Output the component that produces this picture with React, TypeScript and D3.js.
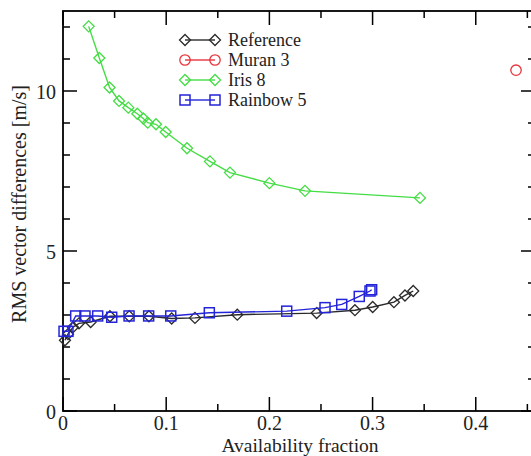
import React from "react";
import * as d3 from "d3";

const refX = [0.0019, 0.0048, 0.0097, 0.0155, 0.0268, 0.0455, 0.0642, 0.0833, 0.1053, 0.1279, 0.1689, 0.2458, 0.2829, 0.3001, 0.3207, 0.3314, 0.3394];
const refY = [2.21, 2.4, 2.62, 2.74, 2.78, 2.96, 2.96, 2.96, 2.89, 2.91, 3.01, 3.06, 3.15, 3.25, 3.4, 3.61, 3.75];

const muranX = [0.439];
const muranY = [10.65];

const irisX = [0.0249, 0.0352, 0.0451, 0.0543, 0.0633, 0.072, 0.0778, 0.0821, 0.0901, 0.0995, 0.1202, 0.1424, 0.1618, 0.2, 0.2345, 0.3459];
const irisY = [12.02, 11.03, 10.11, 9.69, 9.48, 9.29, 9.14, 9.01, 8.96, 8.72, 8.21, 7.8, 7.45, 7.12, 6.88, 6.66];

const rainX = [0.001, 0.0048, 0.0123, 0.0213, 0.0336, 0.0472, 0.064, 0.083, 0.1044, 0.1418, 0.2168, 0.2539, 0.2701, 0.2871, 0.2975, 0.2991];
const rainY = [2.49, 2.49, 2.97, 2.97, 2.97, 2.93, 2.97, 2.97, 2.97, 3.07, 3.12, 3.23, 3.33, 3.58, 3.75, 3.79];

const seriesNames = ["Reference", "Muran 3", "Iris 8", "Rainbow 5"];
const xMajorTicks = [0, 0.1, 0.2, 0.3, 0.4];
const xTickLabels = ["0", "0.1", "0.2", "0.3", "0.4"];
const yMajorTicks = [0, 5, 10];
const yTickLabels = ["0", "5", "10"];

const L = 63, R = 535, T = 11, B = 411;
const FONT = "'Liberation Serif', 'Times New Roman', serif";

type Shape = "diamond" | "circle" | "square";

function Marker({ shape, cx, cy, color }: { shape: Shape; cx: number; cy: number; color: string }) {
  const sw = 1.3;
  if (shape === "diamond") {
    const r = 5.5;
    return <path d={`M${cx},${cy - r}L${cx + r},${cy}L${cx},${cy + r}L${cx - r},${cy}Z`} fill="none" stroke={color} strokeWidth={sw} />;
  }
  if (shape === "circle") {
    return <circle cx={cx} cy={cy} r={5.2} fill="none" stroke={color} strokeWidth={sw} />;
  }
  const h = 5;
  return <rect x={cx - h} y={cy - h} width={2 * h} height={2 * h} fill="none" stroke={color} strokeWidth={sw + 0.2} />;
}

export default function App() {
  const x = d3.scaleLinear().domain([0, 0.4574]).range([L, R]);
  const y = d3.scaleLinear().domain([0, 12.5]).range([B, T]);

  const series = [
    { name: seriesNames[0], xs: refX, ys: refY, color: "#2a2a2a", shape: "diamond" as Shape },
    { name: seriesNames[1], xs: muranX, ys: muranY, color: "#e8333b", shape: "circle" as Shape },
    { name: seriesNames[2], xs: irisX, ys: irisY, color: "#44dd44", shape: "diamond" as Shape },
    { name: seriesNames[3], xs: rainX, ys: rainY, color: "#2424d8", shape: "square" as Shape },
  ];

  const line = d3.line<[number, number]>().x((d) => x(d[0])).y((d) => y(d[1]));

  const xMinor = d3.range(0, 0.4574, 0.05).filter((v) => !xMajorTicks.some((m) => Math.abs(m - v) < 1e-6));
  const yMinor = d3.range(0, 12.6, 1).filter((v) => !yMajorTicks.some((m) => Math.abs(m - v) < 1e-6));

  const MAJ = 14, MIN = 7;

  return (
    <svg width={531} height={456} style={{ position: "absolute", left: 0, top: 0, background: "#fff" }} fontFamily={FONT}>
      <rect x={0} y={0} width={531} height={456} fill="#fff" />
      <g stroke="#000" strokeWidth={1.5}>
        {xMajorTicks.map((v) => (
          <g key={"xm" + v}>
            <line x1={x(v)} x2={x(v)} y1={B} y2={B - MAJ} />
            <line x1={x(v)} x2={x(v)} y1={T} y2={T + MAJ} />
          </g>
        ))}
        {xMinor.map((v) => (
          <g key={"xn" + v}>
            <line x1={x(v)} x2={x(v)} y1={B} y2={B - MIN} />
            <line x1={x(v)} x2={x(v)} y1={T} y2={T + MIN} />
          </g>
        ))}
        {yMajorTicks.map((v) => (
          <g key={"ym" + v}>
            <line x1={L} x2={L + MAJ} y1={y(v)} y2={y(v)} />
            <line x1={R} x2={R - MAJ} y1={y(v)} y2={y(v)} />
          </g>
        ))}
        {yMinor.map((v) => (
          <g key={"yn" + v}>
            <line x1={L} x2={L + MIN} y1={y(v)} y2={y(v)} />
            <line x1={R} x2={R - MIN} y1={y(v)} y2={y(v)} />
          </g>
        ))}
      </g>
      <rect x={L} y={T} width={R - L} height={B - T} fill="none" stroke="#000" strokeWidth={1.8} />

      <g fontSize={20} fill="#222">
        {xMajorTicks.map((v, i) => (
          <text key={"xl" + v} x={x(v)} y={430} textAnchor="middle">{xTickLabels[i]}</text>
        ))}
        {yMajorTicks.map((v, i) => (
          <text key={"yl" + v} x={56} y={y(v) + 7.5} textAnchor="end">{yTickLabels[i]}</text>
        ))}
      </g>
      <text x={300} y={452} textAnchor="middle" fontSize={19.5} fill="#222">Availability fraction</text>
      <text transform="translate(26,204) rotate(-90)" textAnchor="middle" fontSize={20} fill="#222">RMS vector differences [m/s]</text>

      {series.map((s) => {
        const pts: [number, number][] = s.xs.map((v, i) => [v, s.ys[i]]);
        return (
          <g key={s.name}>
            {pts.length > 1 && <path d={line(pts) || ""} fill="none" stroke={s.color} strokeWidth={1.4} />}
            {pts.map((p, i) => (
              <Marker key={i} shape={s.shape} cx={x(p[0])} cy={y(p[1])} color={s.color} />
            ))}
          </g>
        );
      })}

      {series.map((s, i) => {
        const ly = 40 + i * 20;
        return (
          <g key={"lg" + s.name}>
            <line x1={185} x2={215} y1={ly} y2={ly} stroke={s.color} strokeWidth={1.4} />
            <Marker shape={s.shape} cx={185} cy={ly} color={s.color} />
            <Marker shape={s.shape} cx={215} cy={ly} color={s.color} />
            <text x={228} y={ly + 6} fontSize={18} fill="#222">{s.name}</text>
          </g>
        );
      })}
    </svg>
  );
}
